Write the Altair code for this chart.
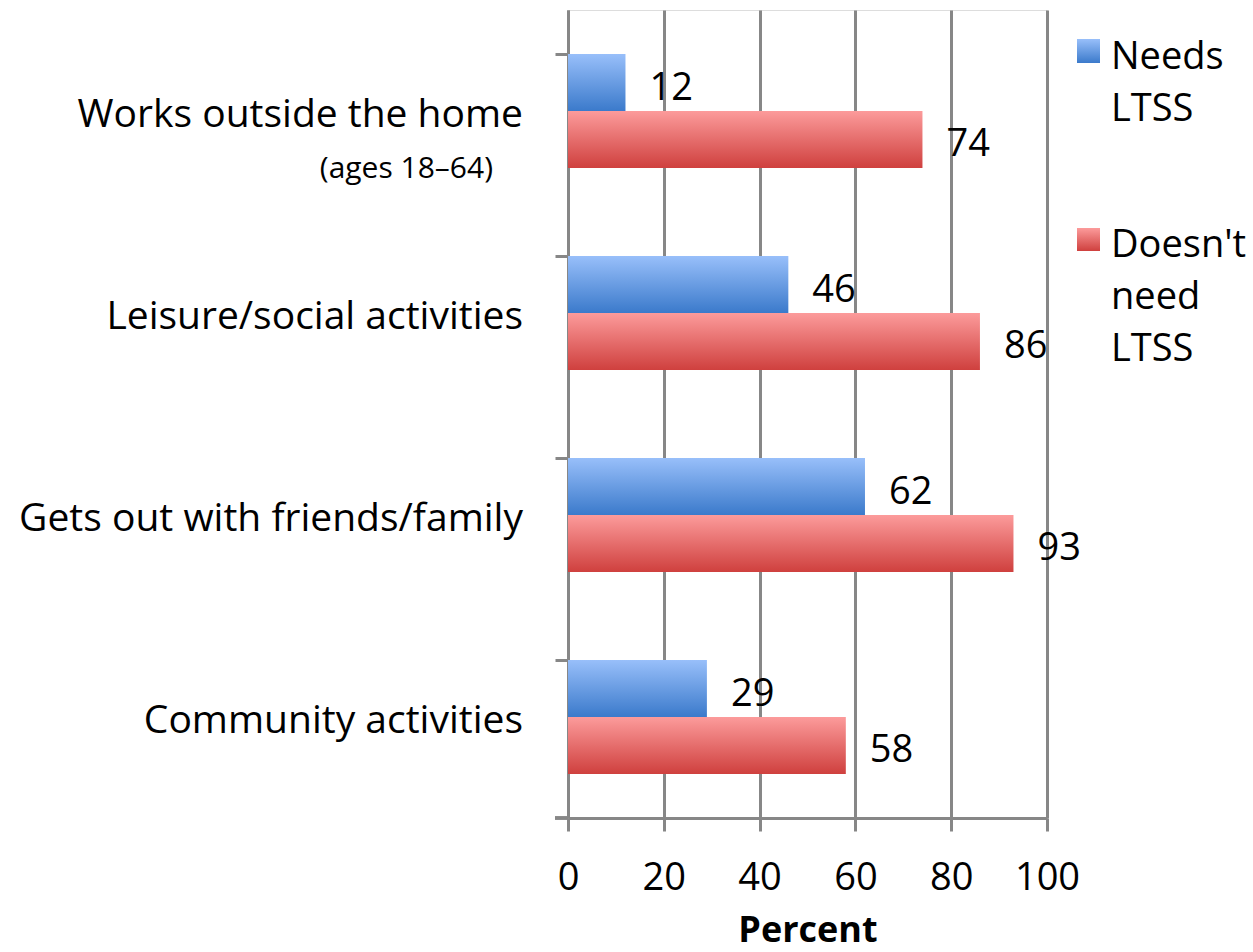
import altair as alt
import pandas as pd

categories = [
    "Works outside the home",
    "Leisure/social activities",
    "Gets out with friends/family",
    "Community activities",
]
series_names = ["Needs LTSS", "Doesn't need LTSS"]
needs_ltss = [12, 46, 62, 29]
no_need_ltss = [74, 86, 93, 58]
legend_lines = ["Needs\nLTSS", "Doesn't\nneed\nLTSS"]
subtitle = "(ages 18\u201364)"
x_ticks = [0, 20, 40, 60, 80, 100]

rows = []
for c, a, b in zip(categories, needs_ltss, no_need_ltss):
    rows.append({"category": c, "series": series_names[0], "value": a})
    rows.append({"category": c, "series": series_names[1], "value": b})
df = pd.DataFrame(rows)
cat_df = pd.DataFrame({"category": categories})
sub_df = pd.DataFrame({"category": [categories[0]], "text": [subtitle]})

FONT = "Open Sans"
FS = 38
GRID = "#878787"
W, H = 479, 808


def vgrad(top, bottom):
    return alt.Gradient(
        gradient="linear",
        stops=[alt.GradientStop(color=top, offset=0), alt.GradientStop(color=bottom, offset=1)],
        x1=0, x2=0, y1=0, y2=1,
    )


blue_grad = vgrad("#98BFFA", "#3B7ACB")
red_grad = vgrad("#FC9B9B", "#CF403E")

y_scale = alt.Scale(domain=categories, paddingInner=0.436, paddingOuter=0.218)
yoff_scale = alt.Scale(domain=series_names, paddingInner=0, paddingOuter=0)
x_scale = alt.Scale(domain=[0, 100], nice=False)

x_enc = alt.X(
    "value:Q",
    scale=x_scale,
    axis=alt.Axis(
        values=x_ticks, grid=True, gridColor=GRID, gridWidth=3,
        domainColor=GRID, domainWidth=3, tickColor=GRID, tickWidth=3, tickSize=13,
        labelFont=FONT, labelFontSize=FS, labelColor="black", labelBaseline="alphabetic",
        labelPadding=58, labelFlush=False,
        title="Percent", titleFont=FONT, titleFontSize=36, titleFontWeight="bold",
        titleColor="black", titleBaseline="alphabetic", titleY=123,
    ),
)
y_enc = alt.Y(
    "category:N",
    scale=y_scale,
    axis=alt.Axis(
        labels=False, title=None, ticks=True, bandPosition=0, tickSize=13,
        tickColor=GRID, tickWidth=3, domainColor=GRID, domainWidth=3, grid=False,
    ),
)
yoff_enc = alt.YOffset("series:N", scale=yoff_scale)

base = alt.Chart(df)

bars_blue = base.transform_filter(alt.datum.series == series_names[0]).mark_bar(
    color=blue_grad, strokeWidth=0
).encode(x=x_enc, y=y_enc, yOffset=yoff_enc)
bars_red = base.transform_filter(alt.datum.series == series_names[1]).mark_bar(
    color=red_grad, strokeWidth=0
).encode(x=x_enc, y=y_enc, yOffset=yoff_enc)

value_labels = base.mark_text(
    align="left", baseline="middle", dx=24, dy=6, font=FONT, fontSize=FS, color="black"
).encode(x=x_enc, y=y_enc, yOffset=yoff_enc, text="value:Q")

cat_labels = alt.Chart(cat_df).mark_text(
    align="right", baseline="alphabetic", dy=16, font=FONT, fontSize=39, color="black"
).encode(y=y_enc, x=alt.value(-45), text="category:N")

sub_labels = alt.Chart(sub_df).mark_text(
    align="right", baseline="alphabetic", dy=67, font=FONT, fontSize=30, color="black"
).encode(y=y_enc, x=alt.value(-75), text="text:N")

bottom_tick = alt.Chart(cat_df).mark_rule(color=GRID, strokeWidth=3).encode(
    x=alt.value(-13), x2=alt.value(0), y=alt.value(H)
)

leg_blue_sq = alt.Chart(cat_df).mark_rect(color=blue_grad).encode(
    x=alt.value(509), x2=alt.value(532), y=alt.value(29), y2=alt.value(53)
)
leg_red_sq = alt.Chart(cat_df).mark_rect(color=red_grad).encode(
    x=alt.value(509), x2=alt.value(532), y=alt.value(218), y2=alt.value(241)
)
leg_df = pd.DataFrame({"series": series_names, "label": legend_lines})
leg_text_blue = alt.Chart(leg_df).transform_filter(alt.datum.series == series_names[0]).mark_text(
    align="left", baseline="alphabetic", lineBreak="\n", lineHeight=52,
    font=FONT, fontSize=FS, color="black"
).encode(x=alt.value(543), y=alt.value(59), text="label:N")
leg_text_red = alt.Chart(leg_df).transform_filter(alt.datum.series == series_names[1]).mark_text(
    align="left", baseline="alphabetic", lineBreak="\n", lineHeight=52,
    font=FONT, fontSize=FS, color="black"
).encode(x=alt.value(543), y=alt.value(247), text="label:N")

chart = alt.layer(
    bars_blue, bars_red, value_labels, cat_labels, sub_labels, bottom_tick,
    leg_blue_sq, leg_red_sq, leg_text_blue, leg_text_red,
).properties(
    width=W, height=H,
    autosize=alt.AutoSizeParams(type="none"),
    padding={"left": 568, "top": 10, "right": 206, "bottom": 134},
).configure_view(stroke=None).configure(background="white")

chart.save("out.html", embed_options={"renderer": "svg", "actions": False})
